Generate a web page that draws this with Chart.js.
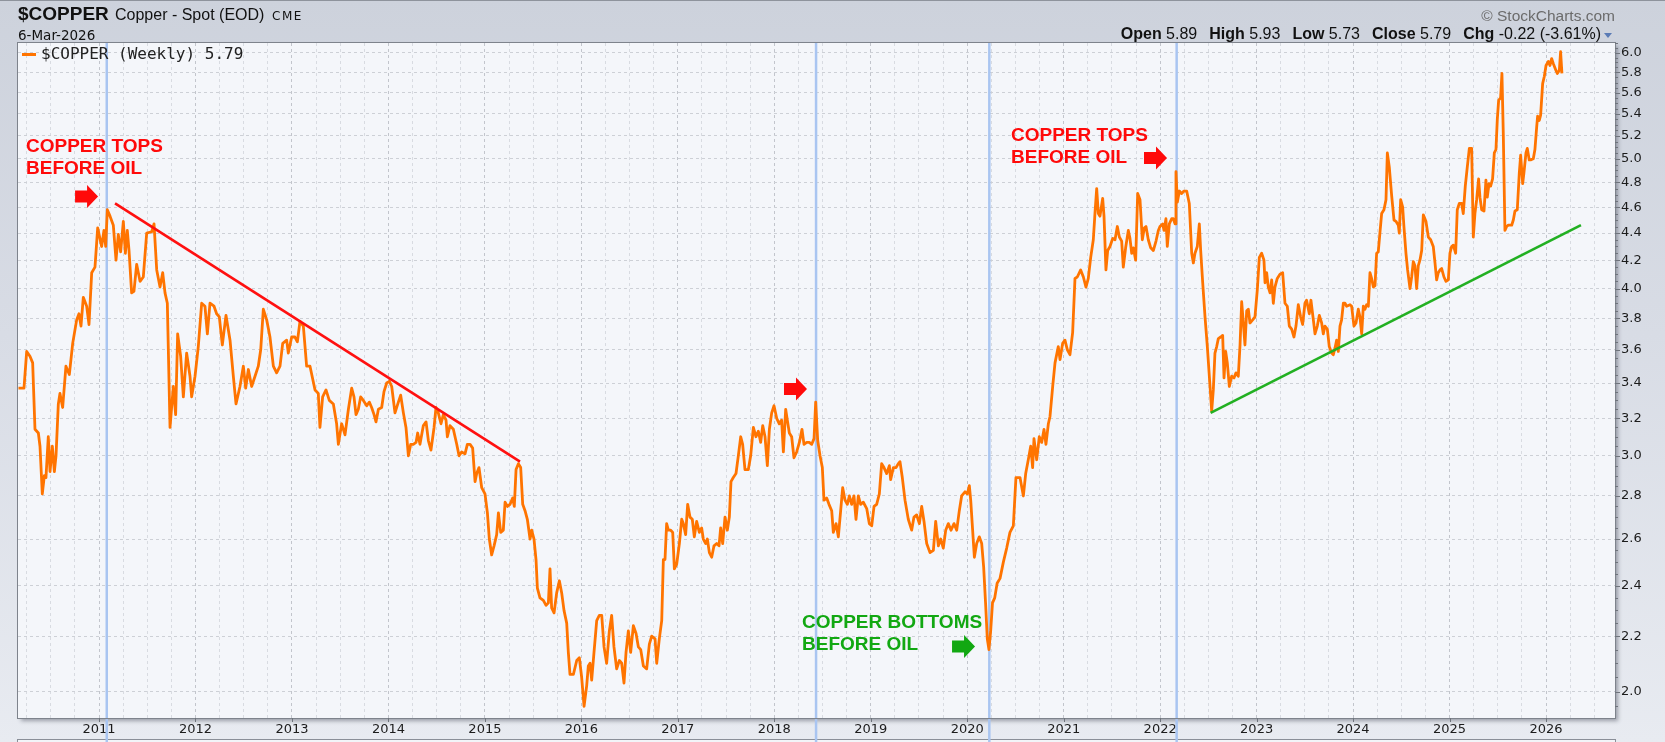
<!DOCTYPE html>
<html><head><meta charset="utf-8">
<script src="https://cdn.jsdelivr.net/npm/chart.js@4.4.1/dist/chart.umd.min.js"></script>
<style>
html,body{margin:0;padding:0;width:1665px;height:742px;overflow:hidden;}
body{position:relative;background:linear-gradient(to bottom,#cdd2dc 0%,#d8dce5 45%,#e8ebf1 100%);font-family:'Liberation Sans',Arial,sans-serif;}
#c{position:absolute;left:0;top:0;}
.t{position:absolute;white-space:pre;color:#111;}
#topline{position:absolute;left:0;top:0;width:1665px;height:1px;background:#8e939c;}
</style></head><body>
<canvas id="c" width="1665" height="742"></canvas>
<div id="topline"></div>
<div class="t" style="left:18px;top:4px;font:bold 19px/1 'Liberation Sans';">$COPPER</div>
<div class="t" style="left:115px;top:7px;font:16px/1 'Liberation Sans';">Copper - Spot (EOD)</div>
<div class="t" style="left:272px;top:9.5px;font:12px/1 'DejaVu Sans';letter-spacing:1.5px;">CME</div>
<div class="t" style="left:18px;top:28.6px;font:13.5px/1 'DejaVu Sans';">6-Mar-2026</div>
<div class="t" style="right:50px;top:7.8px;font:15.5px/1 'Liberation Sans';color:#6b6b6b;">© StockCharts.com</div>
<div class="t" style="right:64px;top:26px;font:16px/1 'Liberation Sans';"><b>Open</b> 5.89<b style="margin-left:12px">High</b> 5.93<b style="margin-left:12px">Low</b> 5.73<b style="margin-left:12px">Close</b> 5.79<b style="margin-left:12px">Chg</b> -0.22 (-3.61%)</div>
<div style="position:absolute;left:1604px;top:33px;width:0;height:0;border-left:4.5px solid transparent;border-right:4.5px solid transparent;border-top:5px solid #5a7bb5;"></div>
<div style="position:absolute;left:22px;top:53px;width:14px;height:3px;background:#ff7400;"></div>
<div class="t" style="left:41px;top:46px;font:16px/1 'DejaVu Sans Mono';color:#222;">$COPPER (Weekly) 5.79</div>
<script>
// ---------- DATA ----------
const weeks = [
2010.165,2010.222,2010.250,2010.284,2010.312,2010.336,2010.371,2010.388,2010.412,2010.433,2010.450,2010.474,2010.492,2010.516,2010.537,2010.554,2010.578,2010.595,2010.623,2010.657,
2010.692,2010.727,2010.768,2010.792,2010.813,2010.837,2010.872,2010.896,2010.924,2010.958,2010.986,2011.027,2011.051,2011.069,2011.086,2011.114,2011.148,2011.176,2011.200,2011.224,
2011.252,2011.273,2011.293,2011.311,2011.338,2011.362,2011.390,2011.425,2011.459,2011.494,2011.546,2011.570,2011.598,2011.632,2011.660,2011.684,2011.708,2011.736,2011.770,2011.794,
2011.815,2011.846,2011.874,2011.908,2011.943,2011.960,2011.995,2012.029,2012.064,2012.098,2012.123,2012.150,2012.192,2012.219,2012.247,2012.278,2012.316,2012.358,2012.392,2012.420,
2012.461,2012.496,2012.520,2012.548,2012.582,2012.617,2012.651,2012.676,2012.703,2012.738,2012.772,2012.807,2012.841,2012.876,2012.904,2012.945,2012.962,2012.997,2013.031,2013.056,
2013.083,2013.118,2013.152,2013.187,2013.239,2013.273,2013.290,2013.318,2013.353,2013.387,2013.429,2013.463,2013.481,
2013.515,2013.550,2013.585,2013.619,2013.643,2013.664,2013.688,2013.712,2013.740,2013.775,2013.802,2013.826,2013.851,2013.871,2013.896,2013.930,2013.954,2013.982,2014.010,2014.034,
2014.068,2014.103,2014.127,2014.155,2014.182,2014.207,2014.231,2014.258,2014.286,2014.303,2014.327,2014.362,2014.390,2014.414,2014.441,2014.473,2014.493,2014.517,2014.545,2014.569,
2014.597,2014.611,2014.638,2014.673,2014.708,2014.732,2014.759,2014.794,2014.818,2014.846,2014.873,2014.898,2014.915,2014.939,2014.967,2015.001,2015.026,2015.046,2015.070,2015.095,
2015.122,2015.140,2015.164,2015.191,2015.209,2015.233,2015.260,2015.288,2015.305,2015.323,2015.347,2015.371,2015.392,2015.416,2015.440,2015.468,2015.485,2015.509,2015.530,2015.544,
2015.571,2015.606,2015.634,2015.658,2015.675,2015.692,2015.717,2015.744,2015.772,2015.796,2015.820,2015.848,2015.865,2015.882,2015.917,2015.952,2015.979,2016.003,2016.028,2016.055,
2016.072,2016.090,2016.107,2016.131,2016.159,2016.186,2016.211,2016.235,2016.262,2016.290,2016.314,2016.338,2016.366,2016.394,2016.418,2016.442,2016.463,2016.487,2016.511,2016.539,
2016.567,2016.591,2016.615,2016.643,2016.677,2016.705,2016.729,2016.764,2016.781,
2016.808,2016.833,2016.850,2016.867,2016.884,2016.902,2016.926,2016.947,2016.964,2016.988,2017.016,2017.040,2017.057,2017.081,2017.102,2017.126,2017.150,2017.171,2017.195,2017.223,
2017.247,2017.264,2017.289,2017.306,2017.327,2017.351,2017.375,2017.403,2017.427,2017.444,2017.465,2017.489,2017.513,2017.534,2017.551,2017.575,2017.603,2017.627,2017.652,2017.672,
2017.696,2017.731,2017.755,2017.783,2017.810,2017.835,2017.859,2017.880,2017.904,2017.928,2017.949,2017.973,2017.997,2018.025,2018.052,2018.076,2018.094,2018.118,2018.135,2018.156,
2018.180,2018.204,2018.232,2018.260,2018.287,2018.308,2018.336,2018.363,2018.388,2018.412,2018.429,2018.450,2018.474,2018.498,2018.515,2018.543,2018.567,2018.595,2018.612,2018.640,
2018.664,2018.688,2018.709,2018.733,2018.757,2018.778,2018.802,2018.826,2018.847,2018.871,2018.895,2018.923,2018.958,2018.985,2019.010,2019.034,2019.061,2019.089,2019.113,2019.137,
2019.165,2019.193,2019.206,2019.234,2019.262,2019.286,2019.303,2019.327,2019.355,2019.389,2019.424,2019.448,2019.476,2019.504,2019.528,2019.552,2019.580,2019.614,2019.649,2019.673,
2019.701,2019.725,2019.752,2019.777,2019.804,2019.832,2019.863,2019.891,2019.918,2019.942,2019.977,2020.001,2020.022,2020.036,2020.056,2020.074,2020.098,2020.125,
2020.150,2020.170,2020.190,2020.208,2020.225,2020.243,2020.262,2020.285,2020.310,2020.340,2020.375,
2020.409,2020.443,2020.478,2020.505,2020.547,2020.582,2020.606,2020.633,2020.658,2020.678,2020.692,2020.720,2020.747,2020.772,2020.796,2020.816,2020.841,2020.858,2020.886,2020.910,
2020.944,2020.962,2020.989,2021.013,2021.038,2021.065,2021.093,2021.117,2021.141,2021.176,2021.204,2021.231,2021.255,2021.280,2021.307,2021.324,2021.342,2021.359,2021.376,2021.404,
2021.418,2021.438,2021.456,2021.480,2021.508,2021.532,2021.556,2021.577,2021.601,2021.618,2021.642,2021.670,2021.687,2021.705,2021.722,2021.746,2021.767,2021.791,2021.815,2021.836,
2021.853,2021.877,2021.902,2021.929,2021.957,2021.981,2021.998,2022.026,2022.040,2022.060,2022.074,2022.095,2022.119,2022.136,2022.154,2022.164,2022.178,2022.199,2022.223,2022.247,
2022.275,2022.302,2022.327,2022.344,2022.361,2022.385,2022.406,2022.420,2022.441,2022.465,2022.489,2022.517,2022.534,2022.551,2022.568,2022.586,2022.603,2022.627,2022.648,2022.662,
2022.679,2022.696,2022.717,2022.741,2022.765,2022.786,2022.810,2022.828,2022.845,2022.862,2022.879,2022.897,2022.914,2022.931,2022.959,2022.983,2023.007,2023.028,2023.052,2023.076,
2023.087,2023.104,2023.121,2023.139,2023.156,2023.173,2023.190,2023.214,2023.242,
2023.270,2023.294,2023.318,2023.339,2023.363,2023.387,2023.408,2023.432,2023.456,2023.477,2023.501,2023.518,2023.546,2023.563,2023.588,2023.605,2023.629,2023.650,2023.674,2023.691,
2023.708,2023.733,2023.753,2023.778,2023.795,2023.812,2023.829,2023.847,2023.864,2023.881,2023.899,2023.916,2023.933,2023.968,2023.985,2024.009,2024.030,2024.054,2024.071,2024.089,
2024.106,2024.123,2024.140,2024.158,2024.175,2024.192,2024.210,2024.227,2024.244,2024.261,2024.279,2024.296,2024.320,2024.341,2024.355,2024.375,2024.400,2024.424,2024.444,2024.469,
2024.479,2024.493,2024.514,2024.527,2024.548,2024.565,2024.590,2024.607,2024.624,2024.641,2024.659,2024.676,2024.693,2024.711,2024.728,2024.755,2024.780,2024.804,2024.831,2024.849,
2024.866,2024.883,2024.901,2024.918,2024.942,2024.963,2024.987,2025.004,2025.022,2025.039,2025.063,2025.080,2025.101,2025.125,2025.142,2025.163,2025.184,2025.205,2025.229,2025.246,
2025.263,2025.281,2025.301,2025.315,2025.333,2025.357,2025.377,2025.391,2025.409,2025.426,2025.446,2025.464,2025.481,2025.495,2025.509,2025.529,2025.543,2025.557,2025.574,2025.592,
2025.609,2025.626,2025.644,2025.661,2025.678,2025.702,2025.723,2025.737,2025.758,2025.771,2025.792,2025.806,2025.826,2025.840,2025.868,2025.885,2025.903,2025.913,2025.930,2025.944,
2025.965,2025.982,2026.000,2026.024,2026.041,2026.058,2026.075,2026.103,2026.117,2026.138,2026.151,2026.165
];
const copper = [
3.37,3.37,3.59,3.56,3.52,3.14,3.12,3.05,2.81,2.90,2.89,3.10,2.92,3.05,2.92,3.00,3.28,3.34,3.26,3.50,
3.45,3.64,3.79,3.83,3.75,3.94,3.88,3.76,4.11,4.15,4.44,4.30,4.42,4.30,4.58,4.53,4.46,4.20,4.39,4.26,
4.49,4.25,4.42,4.27,3.97,3.98,4.17,4.05,4.08,4.40,4.41,4.47,4.13,4.01,4.11,3.97,3.90,3.15,3.38,3.22,
3.70,3.56,3.32,3.58,3.44,3.32,3.44,3.62,3.90,3.88,3.70,3.90,3.88,3.83,3.81,3.63,3.82,3.66,3.44,3.28,
3.38,3.50,3.37,3.48,3.38,3.44,3.50,3.60,3.86,3.79,3.68,3.50,3.46,3.50,3.64,3.66,3.58,3.68,3.68,3.65,
3.78,3.75,3.50,3.50,3.36,3.34,3.15,3.32,3.36,3.30,3.28,3.17,3.06,
3.17,3.11,3.25,3.37,3.32,3.22,3.25,3.32,3.30,3.27,3.29,3.26,3.22,3.18,3.25,3.26,3.35,3.40,3.41,3.38,
3.23,3.29,3.33,3.23,3.15,3.00,3.06,3.06,3.07,3.12,3.06,3.16,3.18,3.08,3.03,3.15,3.26,3.23,3.17,3.22,
3.19,3.10,3.16,3.14,3.06,3.00,3.02,3.01,3.06,3.06,3.04,2.87,2.91,2.94,2.84,2.81,2.72,2.60,2.53,2.57,
2.62,2.72,2.63,2.64,2.77,2.75,2.76,2.79,2.75,2.93,2.96,2.94,2.76,2.73,2.69,2.60,2.64,2.60,2.51,2.39,
2.35,2.34,2.32,2.33,2.47,2.31,2.29,2.37,2.42,2.37,2.30,2.25,2.14,2.06,2.06,2.11,2.12,2.05,1.95,2.02,
2.09,2.10,2.04,2.14,2.26,2.28,2.28,2.16,2.10,2.22,2.28,2.16,2.08,2.11,2.10,2.03,2.14,2.22,2.14,2.24,
2.21,2.16,2.15,2.09,2.08,2.17,2.20,2.19,2.10,
2.19,2.26,2.51,2.51,2.67,2.64,2.64,2.63,2.47,2.49,2.58,2.69,2.67,2.62,2.76,2.70,2.69,2.61,2.68,2.63,
2.65,2.60,2.58,2.60,2.54,2.52,2.57,2.58,2.57,2.65,2.58,2.70,2.64,2.70,2.87,2.89,2.91,3.00,3.10,3.06,
2.93,2.93,3.00,3.15,3.10,3.13,3.07,3.16,3.10,2.95,3.14,3.23,3.27,3.20,3.17,3.19,3.02,3.25,3.19,3.12,
3.10,2.99,3.02,3.07,3.14,3.06,3.07,3.07,3.06,3.09,3.29,3.08,3.00,2.94,2.78,2.79,2.76,2.73,2.63,2.67,
2.61,2.73,2.84,2.78,2.76,2.80,2.76,2.80,2.69,2.80,2.76,2.77,2.74,2.67,2.66,2.75,2.76,2.81,2.96,2.94,
2.91,2.95,2.88,2.94,2.94,2.96,2.97,2.89,2.78,2.69,2.64,2.70,2.71,2.67,2.75,2.68,2.58,2.54,2.55,2.68,
2.57,2.60,2.56,2.64,2.67,2.64,2.67,2.64,2.73,2.80,2.82,2.81,2.85,2.78,2.64,2.52,2.58,2.61,
2.58,2.48,2.33,2.19,2.15,2.22,2.33,2.35,2.41,2.43,2.50,
2.56,2.63,2.66,2.89,2.89,2.80,2.91,2.98,3.05,2.94,3.09,2.98,3.10,3.07,3.14,3.06,3.17,3.21,3.38,3.52,
3.62,3.54,3.64,3.66,3.60,3.57,3.71,4.07,4.08,4.13,4.08,4.01,4.07,4.22,4.35,4.55,4.75,4.55,4.53,4.67,
4.53,4.13,4.27,4.30,4.36,4.35,4.45,4.37,4.34,4.15,4.29,4.42,4.36,4.25,4.29,4.20,4.71,4.66,4.35,4.44,
4.45,4.35,4.29,4.27,4.34,4.42,4.45,4.47,4.42,4.51,4.30,4.47,4.51,4.51,4.47,4.89,4.64,4.73,4.71,4.73,
4.73,4.63,4.25,4.18,4.25,4.30,4.47,4.27,4.04,3.81,3.62,3.38,3.24,3.36,3.58,3.62,3.67,3.68,3.69,3.43,
3.59,3.52,3.38,3.44,3.43,3.46,3.44,3.63,3.91,3.77,3.63,3.85,3.86,3.77,3.79,3.81,3.99,4.22,4.25,4.20,
4.04,4.11,4.01,3.97,4.06,3.90,4.01,4.07,4.10,
4.11,3.90,3.88,3.75,3.73,3.68,3.75,3.89,3.81,3.76,3.90,3.92,3.83,3.92,3.79,3.70,3.75,3.82,3.77,3.70,
3.75,3.73,3.62,3.58,3.57,3.61,3.66,3.59,3.75,3.79,3.90,3.90,3.88,3.89,3.88,3.75,3.77,3.86,3.81,3.70,
3.88,3.86,3.89,3.88,4.11,4.07,4.01,4.02,4.25,4.26,4.41,4.55,4.58,4.66,5.05,4.93,4.69,4.50,4.49,4.46,
4.40,4.66,4.60,4.45,4.25,4.13,4.00,4.08,4.19,4.16,4.00,4.16,4.20,4.27,4.54,4.49,4.37,4.35,4.30,4.18,
4.06,4.11,4.13,4.14,4.08,4.05,4.06,4.25,4.30,4.31,4.25,4.58,4.63,4.63,4.55,4.77,4.93,5.09,5.09,4.37,
4.55,4.66,4.83,4.68,4.58,4.57,4.82,4.68,4.79,4.77,4.83,5.05,5.08,5.35,5.53,5.55,5.79,5.22,4.42,4.45,
4.46,4.46,4.46,4.50,4.57,4.58,4.88,5.03,4.79,4.88,5.05,5.09,4.99,4.99,5.00,5.08,5.28,5.38,5.34,5.39,
5.69,5.76,5.87,5.91,5.87,5.94,5.89,5.82,5.79,5.82,6.01,5.79
];
// trend lines (start / end)
const redTrendDates = [2011.166, 2015.364];
const redTrendValues = [4.63, 2.97];
const greenTrendDates = [2022.523, 2026.362];
const greenTrendValues = [3.23, 4.46];
// oil turning points (vertical markers)
const oilTurns = [2011.080, 2018.433, 2020.229, 2022.171];
// axis ticks
const yearTicks = [2011,2012,2013,2014,2015,2016,2017,2018,2019,2020,2021,2022,2023,2024,2025,2026];
const priceTicks = [2.0,2.2,2.4,2.6,2.8,3.0,3.2,3.4,3.6,3.8,4.0,4.2,4.4,4.6,4.8,5.0,5.2,5.4,5.6,5.8,6.0];
const X_MIN = 2010.160, X_MAX = 2026.715, Y_MIN = 1.9114, Y_MAX = 6.101;

// annotations (anchored in data units)
const RED = '#ff0a0a', GREEN = '#12a812';
const arrowAnchors = [
  {x:2010.990, y:4.686, color:RED},
  {x:2018.339, y:3.365, color:RED},
  {x:2022.071, y:5.006, color:RED},
  {x:2020.081, y:2.161, color:GREEN}
];
const noteAnchors = [
  {x:2010.243, y:5.06, lines:['COPPER TOPS','BEFORE OIL'], color:RED},
  {x:2020.454, y:5.155, lines:['COPPER TOPS','BEFORE OIL'], color:RED},
  {x:2018.287, y:2.231, lines:['COPPER BOTTOMS','BEFORE OIL'], color:GREEN}
];

const quarterTicks = [];
for (let y = yearTicks[0]-1; y <= yearTicks[yearTicks.length-1]; y++) {
  for (let q = 0; q < 4; q++) { const v = y + q*0.25; if (v > X_MIN && v < X_MAX) quarterTicks.push(v); }
}

const decor = {
  id:'decor',
  beforeDraw(chart){
    const {ctx, chartArea:a} = chart;
    ctx.save();
    ctx.fillStyle = '#f2f4f8';
    ctx.fillRect(a.left, 739, a.right - a.left, 10);
    ctx.strokeStyle = '#8a8f98'; ctx.lineWidth = 1;
    ctx.strokeRect(a.left - 0.5, 739.5, a.right - a.left + 1, 20);
    ctx.shadowColor = 'rgba(60,65,80,0.45)'; ctx.shadowBlur = 4; ctx.shadowOffsetX = 3; ctx.shadowOffsetY = 3;
    ctx.fillStyle = '#f4f6fa';
    ctx.fillRect(a.left, a.top, a.right - a.left, a.bottom - a.top);
    ctx.restore();
  },
  beforeDatasetsDraw(chart){
    const {ctx, chartArea:a, scales:{x}} = chart;
    ctx.save();
    ctx.strokeStyle = '#a9c5f1'; ctx.lineWidth = 2.5;
    oilTurns.forEach(d => {
      const px = x.getPixelForValue(d);
      ctx.beginPath(); ctx.moveTo(px, a.top); ctx.lineTo(px, 742); ctx.stroke();
    });
    ctx.restore();
  },
  afterDraw(chart){
    const {ctx, chartArea:a, scales:{x, y}} = chart;
    ctx.save();
    ctx.strokeStyle = '#7e838c'; ctx.lineWidth = 1;
    ctx.strokeRect(a.left - 0.5, a.top - 0.5, a.right - a.left + 1, a.bottom - a.top + 1);
    ctx.strokeStyle = '#6f747c';
    for (let k = 190; k <= 610; k += 5) {
      const v = k/100; if (v < Y_MIN || v > Y_MAX) continue;
      const py = Math.round(y.getPixelForValue(v)) + 0.5;
      const len = (k % 20 === 0) ? 5 : 3;
      ctx.beginPath(); ctx.moveTo(a.right, py); ctx.lineTo(a.right + len, py); ctx.stroke();
    }
    yearTicks.forEach(t => {
      const px = Math.round(x.getPixelForValue(t)) + 0.5;
      ctx.beginPath(); ctx.moveTo(px, a.bottom); ctx.lineTo(px, a.bottom + 4); ctx.stroke();
    });
    arrowAnchors.forEach(p => {
      const tx = x.getPixelForValue(p.x), ty = y.getPixelForValue(p.y);
      ctx.fillStyle = p.color; ctx.beginPath();
      ctx.moveTo(tx - 23, ty - 6); ctx.lineTo(tx - 11, ty - 6); ctx.lineTo(tx - 11, ty - 11.5);
      ctx.lineTo(tx, ty); ctx.lineTo(tx - 11, ty + 11.5); ctx.lineTo(tx - 11, ty + 6); ctx.lineTo(tx - 23, ty + 6);
      ctx.closePath(); ctx.fill();
    });
    ctx.font = "bold 19px 'Liberation Sans', Arial, sans-serif";
    ctx.textBaseline = 'alphabetic'; ctx.textAlign = 'left';
    noteAnchors.forEach(n => {
      const tx = x.getPixelForValue(n.x), ty = y.getPixelForValue(n.y);
      ctx.fillStyle = n.color;
      n.lines.forEach((s, i) => ctx.fillText(s, tx, ty + i*22));
    });
    ctx.restore();
  }
};

new Chart(document.getElementById('c').getContext('2d'), {
  type: 'line',
  data: {
    datasets: [
      { data: weeks.map((w, i) => ({x: w, y: copper[i]})), borderColor: '#ff7400', borderWidth: 2.8,
        pointRadius: 0, tension: 0, fill: false, borderJoinStyle: 'round', order: 2 },
      { data: redTrendDates.map((w, i) => ({x: w, y: redTrendValues[i]})), borderColor: '#ff1010', borderWidth: 2.6,
        pointRadius: 0, fill: false, order: 1 },
      { data: greenTrendDates.map((w, i) => ({x: w, y: greenTrendValues[i]})), borderColor: '#22b022', borderWidth: 2.6,
        pointRadius: 0, fill: false, order: 1 }
    ]
  },
  options: {
    responsive: false, animation: false, devicePixelRatio: 1, parsing: false,
    layout: { padding: { left: 18, top: 43, right: 0, bottom: 0 } },
    scales: {
      x: {
        type: 'linear', min: X_MIN, max: X_MAX,
        afterFit(s) { s.height = 24; },
        afterBuildTicks(s) { s.ticks = quarterTicks.map(v => ({value: v})); },
        ticks: { autoSkip: false, maxRotation: 0, padding: 4, color: '#1c1c1c',
          font: { family: 'DejaVu Sans', size: 13 },
          callback: v => yearTicks.includes(v) ? String(v) : '' },
        grid: { drawTicks: false, lineWidth: 1,
          color: c => (c.tick && Number.isInteger(c.tick.value)) ? '#c2c5cc' : '#d8dbe1' },
        border: { display: false, dash: [3, 3] }
      },
      y: {
        type: 'logarithmic', position: 'right', min: Y_MIN, max: Y_MAX,
        afterFit(s) { s.width = 50; },
        afterBuildTicks(s) { s.ticks = priceTicks.map(v => ({value: v})); },
        ticks: { padding: 6, color: '#1c1c1c', font: { family: 'DejaVu Sans', size: 13 },
          callback: v => Number(v).toFixed(1) },
        grid: { drawTicks: false, lineWidth: 1, color: '#cdd0d6' },
        border: { display: false, dash: [3, 3] }
      }
    },
    plugins: { legend: { display: false }, tooltip: { enabled: false } }
  },
  plugins: [decor]
});
</script>
</body></html>
